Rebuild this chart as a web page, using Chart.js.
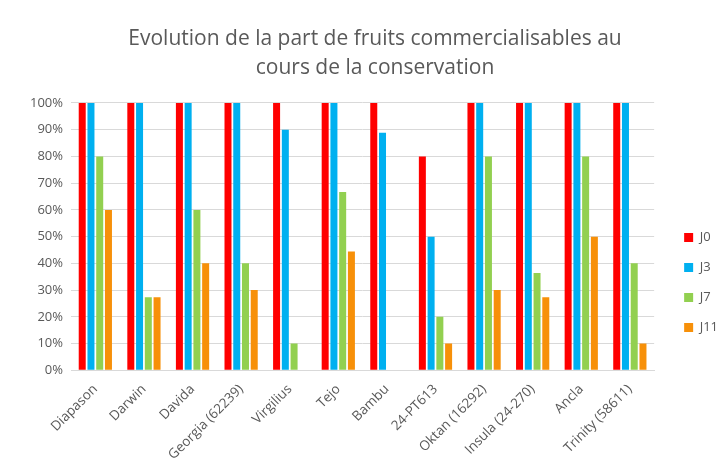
<!DOCTYPE html>
<html>
<head>
<meta charset="utf-8">
<script src="https://cdn.jsdelivr.net/npm/chart.js@4/dist/chart.umd.min.js"></script>
<style>
  html, body { margin: 0; padding: 0; background: #fff; }
  #wrap { width: 728px; height: 468px; position: relative; }
</style>
</head>
<body>
<div id="wrap"><canvas id="bar-chart"></canvas></div>
<script>
var varieties = ['Diapason', 'Darwin', 'Davida', 'Georgia (62239)', 'Virgilius', 'Tejo', 'Bambu',
                 '24-PT613', 'Oktan (16292)', 'Insula (24-270)', 'Ancla', 'Trinity (58611)'];
var j0  = [100, 100, 100, 100, 100, 100, 100, 80, 100, 100, 100, 100];
var j3  = [100, 100, 100, 100, 90, 100, 88.9, 50, 100, 100, 100, 100];
var j7  = [80, 27.3, 60, 40, 10, 66.7, 0, 20, 80, 36.4, 80, 40];
var j11 = [60, 27.3, 40, 30, 0, 44.4, 0, 10, 30, 27.3, 50, 10];

var grey = '#595959';
var font = "'Open Sans', 'Liberation Sans', sans-serif";

function serie(label, data, color) {
    return {
        label: label,
        data: data,
        backgroundColor: color,
        categoryPercentage: 0.72,
        barPercentage: 0.8
    };
}

new Chart(document.getElementById('bar-chart'), {
    type: 'bar',
    data: {
        labels: varieties,
        datasets: [
            serie('J0', j0, '#ff0000'),
            serie('J3', j3, '#00b0f0'),
            serie('J7', j7, '#92d050'),
            serie('J11', j11, '#f79009')
        ]
    },
    options: {
        responsive: true,
        maintainAspectRatio: false,
        animation: false,
        layout: { padding: { left: 22, right: 0, top: 25, bottom: 2 } },
        plugins: {
            title: {
                display: true,
                text: ['Evolution de la part de fruits commercialisables au', 'cours de la conservation'],
                color: grey,
                font: { family: font, size: 21, weight: 'normal', lineHeight: 1.38 },
                padding: { top: 0, bottom: 20 }
            },
            legend: {
                position: 'right',
                title: {
                    display: true,
                    text: ' ',
                    font: { size: 10 },
                    padding: { top: 0, bottom: 62 }
                },
                labels: {
                    color: grey,
                    font: { family: font, size: 13 },
                    boxWidth: 9,
                    boxHeight: 9,
                    padding: 17
                }
            },
            tooltip: { enabled: false }
        },
        scales: {
            x: {
                grid: { display: false },
                border: { color: '#d9d9d9' },
                ticks: {
                    color: grey,
                    font: { family: font, size: 13.5 },
                    maxRotation: 45,
                    minRotation: 45,
                    autoSkip: false
                }
            },
            y: {
                min: 0,
                max: 100,
                grid: { color: '#d9d9d9', drawTicks: false },
                border: { display: false },
                ticks: {
                    stepSize: 10,
                    color: grey,
                    padding: 8,
                    font: { family: font, size: 13 },
                    callback: function(v) { return v + '%'; }
                }
            },
            // empty spacer so the plot stops short of the legend
            spacer: {
                position: 'right',
                grid: { display: false },
                border: { display: false },
                ticks: { display: false },
                afterFit: function(scale) { scale.width = 13; }
            }
        }
    }
});
</script>
</body>
</html>
